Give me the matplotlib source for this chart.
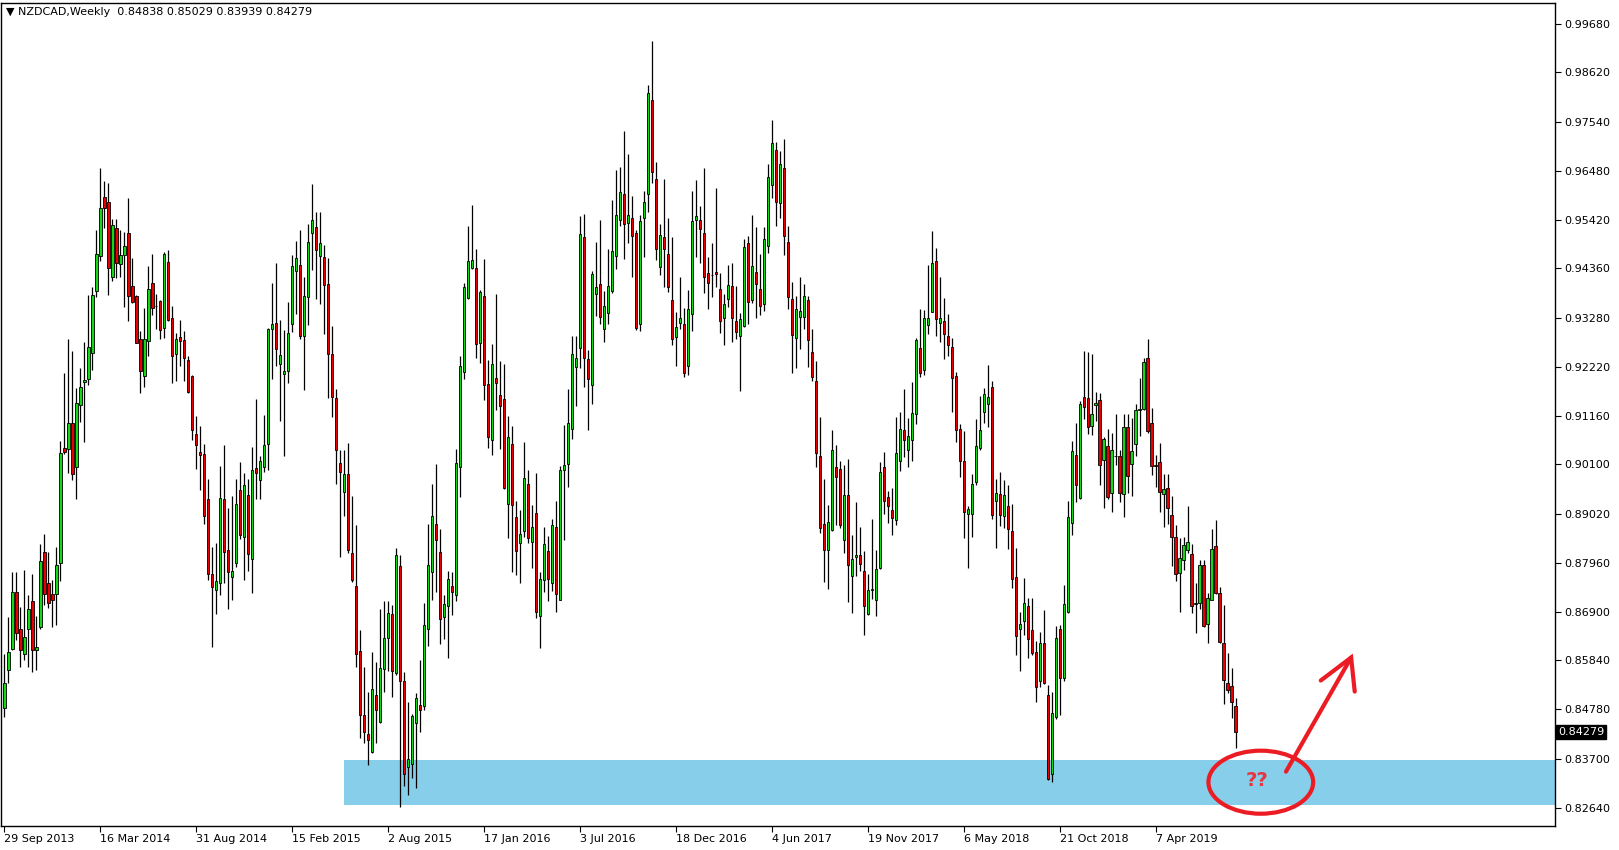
import numpy as np
import pandas as pd
import matplotlib
matplotlib.use("Agg")
from matplotlib import pyplot as plt
from matplotlib.patches import Ellipse
from matplotlib.transforms import blended_transform_factory

# NZDCAD weekly candles, first bar = week of 29 Sep 2013
opens = [
    0.8480, 0.8562, 0.8609, 0.8732, 0.8653, 0.8597, 0.8651, 0.8712, 0.8606, 0.8657,
    0.8819, 0.8751, 0.8729, 0.8729, 0.8795, 0.9045, 0.9044, 0.9099, 0.9005, 0.9138,
    0.9188, 0.9195, 0.9252, 0.9386, 0.9462, 0.9590, 0.9579, 0.9418, 0.9523, 0.9445,
    0.9464, 0.9512, 0.9397, 0.9375, 0.9282, 0.9202, 0.9279, 0.9404, 0.9355, 0.9364,
    0.9307, 0.9449, 0.9329, 0.9249, 0.9287, 0.9280, 0.9236, 0.9202, 0.9076, 0.9037,
    0.9032, 0.8934, 0.8771, 0.8736, 0.8752, 0.8935, 0.8824, 0.8766, 0.8795, 0.8955,
    0.8853, 0.8943, 0.8805, 0.9003, 0.8976, 0.9005, 0.9054, 0.9304, 0.9318, 0.9228,
    0.9207, 0.9212, 0.9315, 0.9430, 0.9444, 0.9288, 0.9374, 0.9512, 0.9525, 0.9462,
    0.9460, 0.9401, 0.9250, 0.9153, 0.9012, 0.8950, 0.8988, 0.8817, 0.8745, 0.8604,
    0.8464, 0.8423, 0.8385, 0.8509, 0.8450, 0.8565, 0.8633, 0.8685, 0.8556, 0.8788,
    0.8538, 0.8351, 0.8358, 0.8448, 0.8486, 0.8485, 0.8652, 0.8776, 0.8881, 0.8819,
    0.8677, 0.8703, 0.8745, 0.8725, 0.9004, 0.9210, 0.9371, 0.9437, 0.9437, 0.9273,
    0.9376, 0.9185, 0.9062, 0.9198, 0.9161, 0.9152, 0.8923, 0.9053, 0.8895, 0.8838,
    0.8864, 0.8968, 0.8841, 0.8904, 0.8680, 0.8759, 0.8821, 0.8753, 0.8873, 0.8716,
    0.8998, 0.9011, 0.9086, 0.9222, 0.9262, 0.9505, 0.9239, 0.9182, 0.9380, 0.9402,
    0.9303, 0.9339, 0.9387, 0.9462, 0.9540, 0.9597, 0.9534, 0.9545, 0.9512, 0.9315,
    0.9545, 0.9597, 0.9802, 0.9631, 0.9438, 0.9503, 0.9466, 0.9367, 0.9286, 0.9318,
    0.9315, 0.9224, 0.9336, 0.9542, 0.9541, 0.9512, 0.9426, 0.9421, 0.9429, 0.9392,
    0.9327, 0.9369, 0.9397, 0.9321, 0.9289, 0.9311, 0.9490, 0.9366, 0.9429, 0.9392,
    0.9358, 0.9484, 0.9617, 0.9693, 0.9577, 0.9655, 0.9494, 0.9369, 0.9284, 0.9331,
    0.9331, 0.9367, 0.9255, 0.9192, 0.9029, 0.8880, 0.8824, 0.8867, 0.9004, 0.9000,
    0.8845, 0.8944, 0.8767, 0.8808, 0.8812, 0.8779, 0.8685, 0.8737, 0.8714, 0.8785,
    0.9004, 0.8938, 0.8910, 0.8888, 0.9018, 0.9084, 0.9042, 0.9063, 0.9119, 0.9262,
    0.9214, 0.9312, 0.9342, 0.9451, 0.9317, 0.9321, 0.9288, 0.9265, 0.9202, 0.9087,
    0.9018, 0.8903, 0.8903, 0.8972, 0.9046, 0.9123, 0.9141, 0.9177, 0.8930, 0.8946,
    0.8898, 0.8919, 0.8866, 0.8765, 0.8652, 0.8669, 0.8701, 0.8650, 0.8602, 0.8538,
    0.8621, 0.8509, 0.8337, 0.8461, 0.8651, 0.8545, 0.8690, 0.8883, 0.9030, 0.8936,
    0.9156, 0.9153, 0.9094, 0.9139, 0.9150, 0.9019, 0.9050, 0.8947, 0.9028, 0.9028,
    0.8945, 0.9090, 0.9010, 0.9053, 0.9129, 0.9130, 0.9240, 0.9099, 0.9008, 0.9014,
    0.8945, 0.8958, 0.8900, 0.8851, 0.8773, 0.8803, 0.8824, 0.8816, 0.8706, 0.8708,
    0.8791, 0.8662, 0.8715, 0.8832, 0.8730, 0.8621, 0.8534, 0.8528, 0.84838,
]
highs = [
    0.8598, 0.8679, 0.8775, 0.8776, 0.8700, 0.8780, 0.8725, 0.8771, 0.8681, 0.8837,
    0.8859, 0.8820, 0.8759, 0.8830, 0.9061, 0.9208, 0.9283, 0.9256, 0.9175, 0.9219,
    0.9276, 0.9377, 0.9396, 0.9520, 0.9653, 0.9626, 0.9621, 0.9543, 0.9543, 0.9520,
    0.9515, 0.9589, 0.9458, 0.9377, 0.9300, 0.9349, 0.9440, 0.9467, 0.9381, 0.9368,
    0.9471, 0.9476, 0.9354, 0.9296, 0.9324, 0.9300, 0.9245, 0.9204, 0.9116, 0.9094,
    0.9055, 0.8977, 0.8830, 0.8838, 0.9007, 0.9051, 0.8916, 0.8940, 0.8979, 0.9014,
    0.8991, 0.8977, 0.9048, 0.9151, 0.9027, 0.9117, 0.9306, 0.9404, 0.9448, 0.9324,
    0.9302, 0.9362, 0.9464, 0.9496, 0.9520, 0.9417, 0.9532, 0.9619, 0.9559, 0.9559,
    0.9487, 0.9458, 0.9311, 0.9174, 0.9041, 0.9042, 0.9056, 0.8941, 0.8877, 0.8649,
    0.8570, 0.8516, 0.8601, 0.8581, 0.8696, 0.8712, 0.8712, 0.8705, 0.8829, 0.8813,
    0.8559, 0.8493, 0.8468, 0.8512, 0.8585, 0.8709, 0.8881, 0.8967, 0.9010, 0.8869,
    0.8725, 0.8778, 0.8776, 0.9043, 0.9245, 0.9404, 0.9528, 0.9573, 0.9477, 0.9388,
    0.9457, 0.9236, 0.9271, 0.9380, 0.9234, 0.9228, 0.9116, 0.9094, 0.8931, 0.8910,
    0.9058, 0.8998, 0.8921, 0.8991, 0.8775, 0.8873, 0.8854, 0.8890, 0.8931, 0.9007,
    0.9096, 0.9174, 0.9288, 0.9288, 0.9550, 0.9554, 0.9259, 0.9431, 0.9494, 0.9540,
    0.9387, 0.9479, 0.9584, 0.9649, 0.9657, 0.9735, 0.9684, 0.9593, 0.9519, 0.9552,
    0.9605, 0.9834, 0.9929, 0.9668, 0.9532, 0.9631, 0.9545, 0.9505, 0.9342, 0.9418,
    0.9349, 0.9389, 0.9603, 0.9628, 0.9571, 0.9653, 0.9461, 0.9492, 0.9610, 0.9425,
    0.9380, 0.9443, 0.9447, 0.9397, 0.9338, 0.9499, 0.9506, 0.9552, 0.9525, 0.9467,
    0.9526, 0.9663, 0.9758, 0.9711, 0.9691, 0.9716, 0.9528, 0.9407, 0.9376, 0.9416,
    0.9402, 0.9376, 0.9303, 0.9235, 0.9112, 0.8979, 0.8921, 0.9084, 0.9052, 0.9018,
    0.9009, 0.9022, 0.8857, 0.8928, 0.8874, 0.8821, 0.8771, 0.8890, 0.8824, 0.9014,
    0.9036, 0.8952, 0.8958, 0.9113, 0.9124, 0.9173, 0.9111, 0.9189, 0.9285, 0.9348,
    0.9346, 0.9444, 0.9517, 0.9481, 0.9416, 0.9372, 0.9336, 0.9284, 0.9211, 0.9097,
    0.9083, 0.8920, 0.8988, 0.9108, 0.9159, 0.9175, 0.9226, 0.9191, 0.8978, 0.8993,
    0.8976, 0.8966, 0.8923, 0.8827, 0.8690, 0.8763, 0.8719, 0.8719, 0.8626, 0.8646,
    0.8693, 0.8530, 0.8516, 0.8659, 0.8661, 0.8748, 0.8931, 0.9061, 0.9100, 0.9148,
    0.9257, 0.9253, 0.9250, 0.9168, 0.9166, 0.9070, 0.9086, 0.9077, 0.9119, 0.9040,
    0.9119, 0.9119, 0.9110, 0.9141, 0.9197, 0.9240, 0.9282, 0.9132, 0.9030, 0.9056,
    0.8989, 0.8989, 0.8940, 0.8878, 0.8849, 0.8853, 0.8919, 0.8837, 0.8751, 0.8801,
    0.8802, 0.8731, 0.8869, 0.8889, 0.8743, 0.8704, 0.8599, 0.8567, 0.85029,
]
lows = [
    0.8460, 0.8535, 0.8607, 0.8629, 0.8569, 0.8584, 0.8569, 0.8558, 0.8562, 0.8653,
    0.8705, 0.8698, 0.8656, 0.8661, 0.8756, 0.9032, 0.8991, 0.8975, 0.8935, 0.9102,
    0.9058, 0.9182, 0.9216, 0.9373, 0.9451, 0.9524, 0.9377, 0.9408, 0.9414, 0.9418,
    0.9351, 0.9322, 0.9361, 0.9273, 0.9164, 0.9179, 0.9246, 0.9335, 0.9304, 0.9283,
    0.9285, 0.9322, 0.9186, 0.9192, 0.9223, 0.9192, 0.9164, 0.9063, 0.8999, 0.8955,
    0.8881, 0.8758, 0.8613, 0.8685, 0.8725, 0.8752, 0.8696, 0.8714, 0.8786, 0.8847,
    0.8759, 0.8779, 0.8730, 0.8934, 0.8934, 0.8994, 0.8997, 0.9196, 0.9224, 0.9105,
    0.9029, 0.9187, 0.9297, 0.9336, 0.9282, 0.9171, 0.9313, 0.9433, 0.9369, 0.9359,
    0.9293, 0.9155, 0.9113, 0.8967, 0.8808, 0.8898, 0.8817, 0.8754, 0.8570, 0.8414,
    0.8405, 0.8356, 0.8383, 0.8405, 0.8448, 0.8516, 0.8561, 0.8504, 0.8552, 0.8266,
    0.8311, 0.8291, 0.8329, 0.8306, 0.8429, 0.8477, 0.8615, 0.8715, 0.8733, 0.8620,
    0.8630, 0.8590, 0.8682, 0.8712, 0.8938, 0.9196, 0.9369, 0.9434, 0.9242, 0.9230,
    0.9150, 0.9045, 0.9030, 0.9129, 0.9043, 0.8957, 0.8849, 0.8776, 0.8770, 0.8752,
    0.8852, 0.8838, 0.8785, 0.8675, 0.8611, 0.8733, 0.8712, 0.8735, 0.8690, 0.8715,
    0.8845, 0.8961, 0.9064, 0.9136, 0.9219, 0.9179, 0.9084, 0.9142, 0.9333, 0.9314,
    0.9275, 0.9314, 0.9382, 0.9434, 0.9527, 0.9457, 0.9490, 0.9416, 0.9302, 0.9300,
    0.9461, 0.9559, 0.9621, 0.9455, 0.9421, 0.9395, 0.9385, 0.9269, 0.9224, 0.9305,
    0.9200, 0.9204, 0.9300, 0.9460, 0.9448, 0.9383, 0.9347, 0.9373, 0.9396, 0.9295,
    0.9269, 0.9351, 0.9276, 0.9282, 0.9170, 0.9309, 0.9315, 0.9361, 0.9327, 0.9334,
    0.9344, 0.9470, 0.9588, 0.9528, 0.9545, 0.9465, 0.9347, 0.9209, 0.9219, 0.9260,
    0.9303, 0.9222, 0.9190, 0.9005, 0.8860, 0.8755, 0.8740, 0.8866, 0.8878, 0.8872,
    0.8817, 0.8711, 0.8687, 0.8767, 0.8777, 0.8640, 0.8683, 0.8717, 0.8681, 0.8783,
    0.8902, 0.8883, 0.8857, 0.8878, 0.8996, 0.9025, 0.9004, 0.9017, 0.9097, 0.9199,
    0.9203, 0.9293, 0.9340, 0.9288, 0.9276, 0.9238, 0.9245, 0.9123, 0.9058, 0.8982,
    0.8849, 0.8785, 0.8851, 0.8964, 0.9041, 0.9099, 0.9092, 0.8890, 0.8829, 0.8875,
    0.8872, 0.8825, 0.8741, 0.8596, 0.8560, 0.8640, 0.8588, 0.8596, 0.8494, 0.8527,
    0.8532, 0.8324, 0.8320, 0.8456, 0.8465, 0.8540, 0.8687, 0.8856, 0.8929, 0.8934,
    0.9108, 0.9076, 0.9074, 0.9105, 0.8965, 0.8914, 0.8934, 0.8907, 0.9008, 0.8929,
    0.8896, 0.8947, 0.8941, 0.9028, 0.9071, 0.9128, 0.9079, 0.8987, 0.8960, 0.8907,
    0.8874, 0.8880, 0.8789, 0.8757, 0.8690, 0.8780, 0.8818, 0.8687, 0.8644, 0.8695,
    0.8656, 0.8622, 0.8714, 0.8728, 0.8621, 0.8490, 0.8512, 0.8458, 0.83939,
]
closes = [
    0.8535, 0.8602, 0.8732, 0.8644, 0.8606, 0.8634, 0.8695, 0.8606, 0.8613, 0.8799,
    0.8727, 0.8709, 0.8714, 0.8791, 0.9034, 0.9036, 0.9099, 0.8988, 0.9144, 0.9177,
    0.9193, 0.9265, 0.9377, 0.9467, 0.9568, 0.9568, 0.9436, 0.9530, 0.9447, 0.9464,
    0.9484, 0.9375, 0.9362, 0.9274, 0.9212, 0.9282, 0.9392, 0.9349, 0.9354, 0.9302,
    0.9467, 0.9324, 0.9245, 0.9282, 0.9277, 0.9240, 0.9167, 0.9085, 0.9052, 0.9030,
    0.8898, 0.8771, 0.8744, 0.8757, 0.8937, 0.8820, 0.8775, 0.8777, 0.8923, 0.8856,
    0.8964, 0.8814, 0.8997, 0.8991, 0.9018, 0.9051, 0.9304, 0.9314, 0.9261, 0.9248,
    0.9212, 0.9295, 0.9440, 0.9458, 0.9288, 0.9376, 0.9493, 0.9541, 0.9475, 0.9491,
    0.9399, 0.9250, 0.9156, 0.9041, 0.8994, 0.8988, 0.8823, 0.8759, 0.8597, 0.8464,
    0.8428, 0.8410, 0.8522, 0.8475, 0.8568, 0.8632, 0.8686, 0.8561, 0.8813, 0.8538,
    0.8336, 0.8369, 0.8462, 0.8503, 0.8475, 0.8661, 0.8792, 0.8897, 0.8845, 0.8673,
    0.8706, 0.8761, 0.8733, 0.9013, 0.9223, 0.9395, 0.9451, 0.9454, 0.9271, 0.9385,
    0.9182, 0.9069, 0.9228, 0.9186, 0.9136, 0.8959, 0.9069, 0.8921, 0.8821, 0.8858,
    0.8980, 0.8849, 0.8873, 0.8689, 0.8761, 0.8837, 0.8761, 0.8878, 0.8727, 0.8998,
    0.9008, 0.9099, 0.9249, 0.9242, 0.9510, 0.9241, 0.9196, 0.9423, 0.9395, 0.9331,
    0.9354, 0.9397, 0.9473, 0.9552, 0.9602, 0.9533, 0.9552, 0.9506, 0.9307, 0.9539,
    0.9581, 0.9816, 0.9646, 0.9477, 0.9508, 0.9479, 0.9396, 0.9282, 0.9308, 0.9329,
    0.9208, 0.9347, 0.9539, 0.9550, 0.9521, 0.9418, 0.9403, 0.9421, 0.9423, 0.9321,
    0.9358, 0.9400, 0.9329, 0.9297, 0.9325, 0.9482, 0.9363, 0.9441, 0.9401, 0.9353,
    0.9499, 0.9634, 0.9709, 0.9579, 0.9662, 0.9507, 0.9374, 0.9292, 0.9347, 0.9344,
    0.9376, 0.9280, 0.9199, 0.9034, 0.8871, 0.8824, 0.8885, 0.9042, 0.8982, 0.8878,
    0.8944, 0.8791, 0.8805, 0.8813, 0.8793, 0.8701, 0.8737, 0.8738, 0.8783, 0.8993,
    0.8930, 0.8920, 0.8894, 0.9034, 0.9087, 0.9063, 0.9071, 0.9121, 0.9280, 0.9209,
    0.9328, 0.9328, 0.9447, 0.9325, 0.9329, 0.9293, 0.9270, 0.9197, 0.9085, 0.9017,
    0.8907, 0.8912, 0.8968, 0.9049, 0.9084, 0.9163, 0.9157, 0.8899, 0.8948, 0.8899,
    0.8944, 0.8870, 0.8761, 0.8636, 0.8663, 0.8709, 0.8631, 0.8599, 0.8526, 0.8621,
    0.8535, 0.8325, 0.8469, 0.8632, 0.8545, 0.8706, 0.8895, 0.9039, 0.8965, 0.9142,
    0.9135, 0.9090, 0.9119, 0.9144, 0.9008, 0.9065, 0.8938, 0.9041, 0.9029, 0.8948,
    0.9090, 0.8985, 0.9039, 0.9128, 0.9131, 0.9232, 0.9083, 0.9006, 0.9007, 0.8949,
    0.8956, 0.8914, 0.8851, 0.8771, 0.8806, 0.8835, 0.8840, 0.8702, 0.8708, 0.8791,
    0.8659, 0.8720, 0.8826, 0.8731, 0.8624, 0.8541, 0.8519, 0.8493, 0.84279,
]

first_week = "2013-09-29"
date_labels = ["29 Sep 2013", "16 Mar 2014", "31 Aug 2014", "15 Feb 2015", "2 Aug 2015",
               "17 Jan 2016", "3 Jul 2016", "18 Dec 2016", "4 Jun 2017", "19 Nov 2017",
               "6 May 2018", "21 Oct 2018", "7 Apr 2019"]
price_ticks = [0.99680, 0.98620, 0.97540, 0.96480, 0.95420, 0.94360, 0.93280, 0.92220,
               0.91160, 0.90100, 0.89020, 0.87960, 0.86900, 0.85840, 0.84780, 0.83700, 0.82640]

# support zone and the hand drawn "??" note
zone_start = "2015-05-17"
zone_low, zone_high = 0.8270, 0.8367
note_x, note_y = 314.3, 0.8319
arrow_x = [320.6, 336.9]
arrow_y = [0.8342, 0.8590]
head_x = [329.3, 336.9, 337.8]
head_y = [0.8540, 0.8590, 0.8516]

o = np.array(opens); h = np.array(highs); l = np.array(lows); c = np.array(closes)
weeks = pd.date_range(first_week, periods=len(c), freq="7D")
x = np.arange(len(c))
up = c >= o

fig = plt.figure(figsize=(16.19, 8.5), dpi=100)
ax = fig.add_axes([1 / 1619, 24 / 850, 1554 / 1619, 823 / 850])

zs = (pd.Timestamp(zone_start) - weeks[0]).days / 7
ax.fill_between([zs, 400], zone_low, zone_high, color="#87CEEB", lw=0, zorder=0)

ax.vlines(x, l, h, color="black", lw=0.9, zorder=2)
body = np.maximum(np.abs(c - o), 0.00004)
bottom = np.minimum(o, c)
ax.bar(x[up], body[up], bottom=bottom[up], width=0.6, color="#14D814",
       edgecolor="black", lw=0.6, zorder=3)
ax.bar(x[~up], body[~up], bottom=bottom[~up], width=0.6, color="#E80000",
       edgecolor="black", lw=0.6, zorder=3)

ax.set_xlim(-0.85, 387.9)
ax.set_ylim(0.82238, 1.00126)

tick_idx = [int((pd.Timestamp(d) - weeks[0]).days / 7) for d in date_labels]
ax.set_xticks(tick_idx)
ax.set_xticklabels(date_labels, ha="left", fontsize=8)
ax.tick_params(axis="x", direction="out", length=4, width=0.8, pad=2)

ax.yaxis.tick_right()
ax.set_yticks(price_ticks)
ax.set_yticklabels(["%.5f" % p for p in price_ticks], fontsize=8)
ax.tick_params(axis="y", direction="out", length=4, width=0.8, pad=3)
for s in ax.spines.values():
    s.set_linewidth(1.0)

trans = blended_transform_factory(ax.transAxes, ax.transData)
ax.text(1.002, c[-1], "%.5f" % c[-1], transform=trans, ha="left", va="center",
        fontsize=8, color="white",
        bbox=dict(boxstyle="square,pad=0.15", facecolor="black", edgecolor="black"))

fig.text(6 / 1619, 1 - 12 / 850,
         "\u25BC NZDCAD,Weekly  %.5f %.5f %.5f %.5f" % (o[-1], h[-1], l[-1], c[-1]),
         fontsize=8, va="center", ha="left",
         bbox=dict(facecolor="white", edgecolor="none", pad=1))

red = "#EC1C24"
ax.add_patch(Ellipse((note_x, note_y), 26.2, 0.0137, fill=False, edgecolor=red,
                     lw=3, zorder=5))
ax.text(note_x - 1, note_y + 0.0004, "??", color="#E8353F", fontsize=14,
        fontweight="bold", ha="center", va="center", zorder=6)
ax.plot(arrow_x, arrow_y, color=red, lw=3, solid_capstyle="round", zorder=5)
ax.plot(head_x, head_y, color=red, lw=3, solid_capstyle="round",
        solid_joinstyle="miter", zorder=5)

fig.savefig("out.png", dpi=100)
